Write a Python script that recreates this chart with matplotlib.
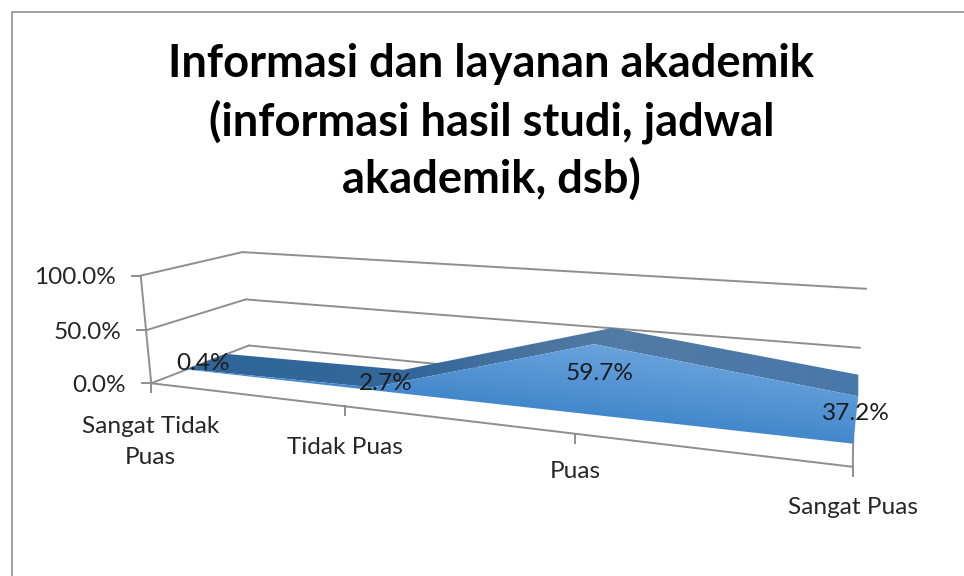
import numpy as np
import matplotlib
matplotlib.use("Agg")
import matplotlib.pyplot as plt
from matplotlib.colors import to_rgb
from matplotlib.patches import Polygon

categories = ["Sangat Tidak\nPuas", "Tidak Puas", "Puas", "Sangat Puas"]
values = [0.4, 2.7, 59.7, 37.2]
value_ticks = [0, 50, 100]
tick_labels = ["0.0%", "50.0%", "100.0%"]
title = "Informasi dan layanan akademik\n(informasi hasil studi, jadwal\nakademik, dsb)"

W, H = 964, 576
GRID = "#8e8e8e"
TXT = "#262626"
LW = 1.4
plt.rcParams['font.family'] = ['Lato', 'DejaVu Sans']

#-------- perspective of the 3D box: (u along categories, v value, w depth) -> pixels -------------
calib = [((0, 0, 0), (152, 383)), ((1, 0, 0), (853, 466)), ((0, 1, 0), (140, 276)),
         ((0, 0, 1), (248, 346)), ((0, 1, 1), (243, 252)), ((1, 1, 1), (866, 289)),
         ((1, .5, 1), (860, 347.6)), ((0, .5, 0), (146, 330)), ((0, .5, 1), (246, 299)),
         ((1/3, 0, 0), (345, 406)), ((2/3, 0, 0), (575, 435))]
A = []; b = []
for (u, v, w), (x, y) in calib:
    A.append([u, v, w, 1, 0, 0, 0, 0, -x*u, -x*v, -x*w]); b.append(x)
    A.append([0, 0, 0, 0, u, v, w, 1, -y*u, -y*v, -y*w]); b.append(y)
P = np.linalg.lstsq(np.array(A, float), np.array(b, float), rcond=None)[0]
P = np.append(P, 1).reshape(3, 4)

def proj(u, v, w):
    p = P @ np.array([u, v, w, 1.0])
    return p[0] / p[2], p[1] / p[2]

def line3d(a, c, **kw):
    xa, ya = proj(*a); xc, yc = proj(*c)
    ax.plot([xa, xc], [ya, yc], color=GRID, lw=LW, solid_capstyle='round', **kw)

fig = plt.figure(figsize=(W / 100, H / 100), dpi=100)
ax = fig.add_axes([0, 0, 1, 1])
ax.set_axis_off()

# chart border, only left and top are inside the crop
ax.plot([11.5, 11.5, W], [H, 11.5, 11.5], color="#8f8f8f", lw=1.2)

#-------- walls and floor -------------
for t, lab in zip(value_ticks, tick_labels):
    v = t / value_ticks[-1]
    line3d((0, v, 0), (0, v, 1))
    line3d((0, v, 1), (1, v, 1))
    x0, y0 = proj(0, v, 0)
    ax.plot([x0 - 9, x0], [y0, y0], color=GRID, lw=LW)
    ax.text(x0 - 25, y0 + 2, lab, ha='right', va='center', fontsize=17.6, color=TXT)
line3d((0, 0, 0), (0, 1, 0))
line3d((0, 0, 0), (1, 0, 0))
line3d((1, 0, 0), (1, 0, 1))

us = np.linspace(0, 1, len(categories))
label_y = [442, 448, 471, 508]
for u, cat, ly in zip(us, categories, label_y):
    x0, y0 = proj(u, 0, 0)
    ax.plot([x0, x0], [y0, y0 + 9], color=GRID, lw=LW)
    ax.text(x0 + (-1 if u == 0 else 0), ly, cat, ha='center', va='center', fontsize=17.6,
            color=TXT, linespacing=1.6)

#-------- area -------------
wf, wb = 0.33, 0.74
vals = np.array(values) / value_ticks[-1]

def gradient_layer(poly, rgb):
    im = ax.imshow(rgb, extent=(0, W, H, 0), aspect='auto', zorder=3, interpolation='bilinear')
    patch = Polygon(poly, closed=True, transform=ax.transData, fill=False, edgecolor='none')
    ax.add_patch(patch)
    im.set_clip_path(patch)

xx, yy = np.meshgrid(np.arange(W) + .5, np.arange(H) + .5)

# top face: colour follows x
stops_x = [185, 420, 500, 610, 857]
stops_c = ["#2f6598", "#34689a", "#44719f", "#527ba4", "#4878aa"]
top_rgb = np.dstack([np.interp(xx, stops_x, [to_rgb(c)[i] for c in stops_c]) for i in range(3)])
top_poly = [proj(u, v, wf) for u, v in zip(us, vals)] + [proj(u, v, wb) for u, v in zip(us[::-1], vals[::-1])]
gradient_layer(top_poly, top_rgb)

# front face: colour follows height above its bottom edge
x_l, y_l = proj(0, 0, wf); x_r, y_r = proj(1, 0, wf)
bottom = y_l + (y_r - y_l) * (xx - x_l) / (x_r - x_l)
t = np.clip((bottom - yy) / 75.0, 0, 1)[..., None]
c0 = np.array(to_rgb("#4388cc")); c1 = np.array(to_rgb("#6ba4de"))
front_rgb = c0 + (c1 - c0) * t
front_poly = [proj(u, v, wf) for u, v in zip(us, vals)] + [proj(1, 0, wf), proj(0, 0, wf)]
gradient_layer(front_poly, front_rgb)

label_xy = [(203, 364), (386, 383), (600, 374), (856, 413)]
for val, (lx, ly) in zip(values, label_xy):
    ax.text(lx, ly, "%.1f%%" % val, ha='center', va='center', fontsize=17.6, color="#1c1c1c", zorder=5)

#-------- title -------------
ax.text(491.5, 122, title, ha='center', va='center', fontsize=32.6, fontweight='bold', color='black',
        linespacing=1.39)

ax.set_xlim(0, W)
ax.set_ylim(H, 0)
fig.savefig("out.png", dpi=100, facecolor='white')
